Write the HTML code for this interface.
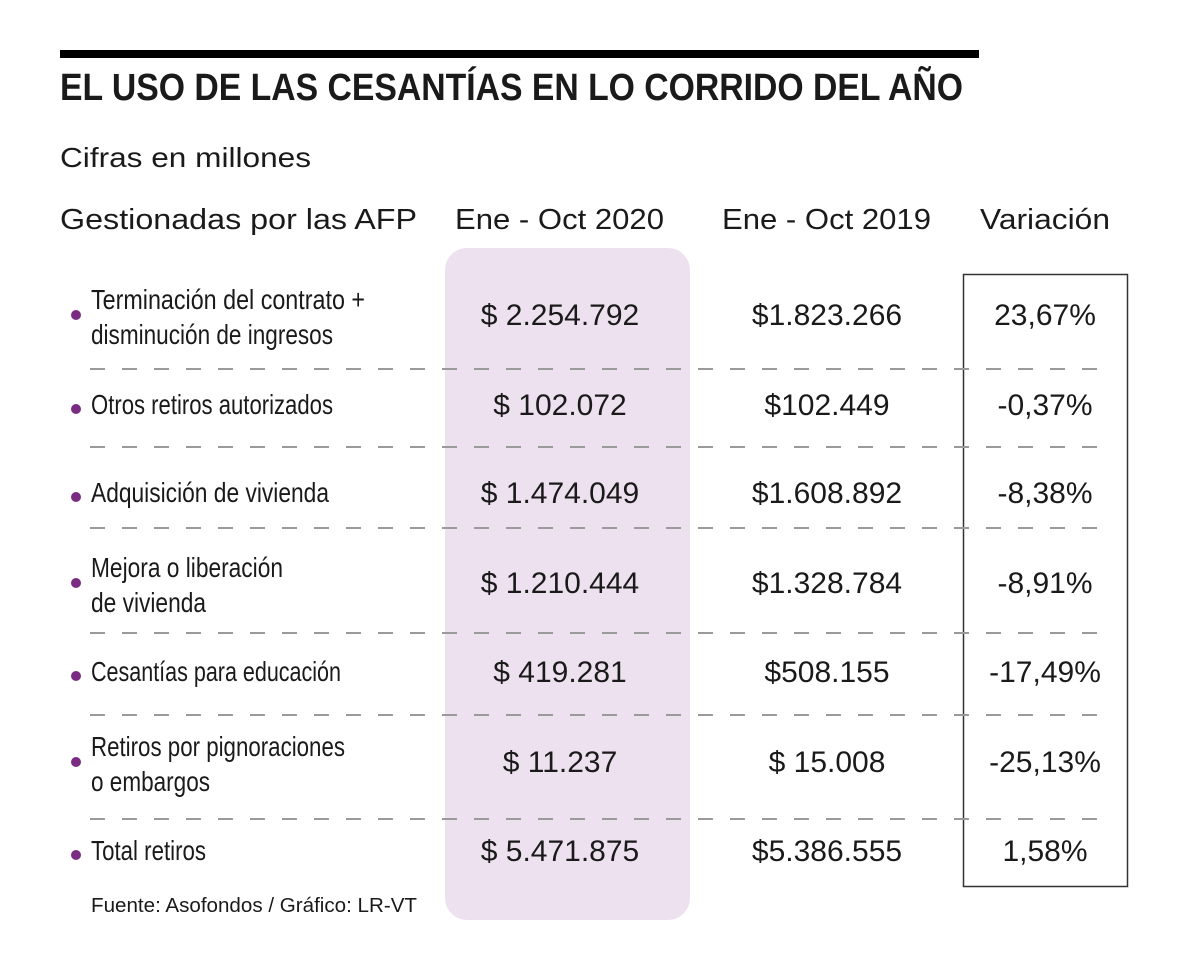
<!DOCTYPE html>
<html><head><meta charset="utf-8"><style>
html,body{margin:0;padding:0;background:#fff}
svg{display:block}
text{font-family:"Liberation Sans",sans-serif;fill:#1a1a1a}
.n{font-family:"Liberation Sans Narrow","Liberation Sans",sans-serif}
</style></head><body>
<svg id="chart" width="1200" height="968" viewBox="0 0 1200 968">
<rect x="60" y="50" width="919" height="8" fill="#000"/>
<text x="60" y="100" font-size="38" font-weight="bold" textLength="903" lengthAdjust="spacingAndGlyphs" fill="#000">EL USO DE LAS CESANTÍAS EN LO CORRIDO DEL AÑO</text>
<text x="60" y="167" font-size="28" textLength="251" lengthAdjust="spacingAndGlyphs" fill="#333">Cifras en millones</text>
<rect x="445" y="248" width="245" height="672" rx="22" fill="#ede1ef"/>
<rect x="963.5" y="274.5" width="164" height="612" fill="none" stroke="#333" stroke-width="1.5"/>
<text x="60" y="229" font-size="29" textLength="357" lengthAdjust="spacingAndGlyphs" fill="#000">Gestionadas por las AFP</text>
<text x="455" y="229" font-size="29" textLength="209" lengthAdjust="spacingAndGlyphs" fill="#333">Ene - Oct 2020</text>
<text x="722" y="229" font-size="29" textLength="209" lengthAdjust="spacingAndGlyphs" fill="#333">Ene - Oct 2019</text>
<text x="980" y="229" font-size="29" textLength="130" lengthAdjust="spacingAndGlyphs" fill="#333">Variación</text>
<g id="rows"></g>
<text x="91" y="912" font-size="20" textLength="326" lengthAdjust="spacingAndGlyphs" fill="#333">Fuente: Asofondos / Gráfico: LR-VT</text>
</svg>
<script>
const labels=[["Terminación del contrato +","disminución de ingresos"],["Otros retiros autorizados"],["Adquisición de vivienda"],["Mejora o liberación","de vivienda"],["Cesantías para educación"],["Retiros por pignoraciones","o embargos"],["Total retiros"]];
const labelWidths=[[274,242],[242],[238],[192,115],[250],[254,119],[115]];
const values2020=["$ 2.254.792","$ 102.072","$ 1.474.049","$ 1.210.444","$ 419.281","$ 11.237","$ 5.471.875"];
const values2019=["$1.823.266","$102.449","$1.608.892","$1.328.784","$508.155","$ 15.008","$5.386.555"];
const variation=["23,67%","-0,37%","-8,38%","-8,91%","-17,49%","-25,13%","1,58%"];
const rowCenters=[314,404,492,582,671,761,850];
const dividers=[369,447,528,633,715,819];
const NS="http://www.w3.org/2000/svg";
const g=document.getElementById('rows');
function t(x,y,s,size,anchor,cls){const e=document.createElementNS(NS,'text');e.setAttribute('x',x);e.setAttribute('y',y);e.setAttribute('font-size',size);if(anchor)e.setAttribute('text-anchor',anchor);if(cls)e.setAttribute('class',cls);e.setAttribute('fill','#222');e.textContent=s;g.appendChild(e);return e;}
dividers.forEach((y,i)=>{const l=document.createElementNS(NS,'line');l.setAttribute('x1',90);l.setAttribute('x2',1112);l.setAttribute('y1',y);l.setAttribute('y2',y);l.setAttribute('stroke','#9a9a9a');l.setAttribute('stroke-width',2);l.setAttribute('stroke-dasharray','15 17');


g.appendChild(l);});
labels.forEach((lines,i)=>{const c=rowCenters[i];
 const two=lines.length>1;
 const b=document.createElementNS(NS,'circle');b.setAttribute('cx',76);b.setAttribute('cy',two?c+1:c+5);b.setAttribute('r',5);b.setAttribute('fill','#7a2c83');
 
 
 g.appendChild(b);
 lines.forEach((s,j)=>{const y=two?(c-5+j*35):(c+10);const e=t(91,y,s,28,null,'n');e.setAttribute('textLength',labelWidths[i][j]);e.setAttribute('lengthAdjust','spacingAndGlyphs');
  
  });
 const a=t(560,c+11,values2020[i],30,'middle');
 
 
 const d=t(827,c+11,values2019[i],30,'middle');
 
 
 const v=t(1045,c+11,variation[i],30,'middle');
 
 
});
</script>
</body></html>
